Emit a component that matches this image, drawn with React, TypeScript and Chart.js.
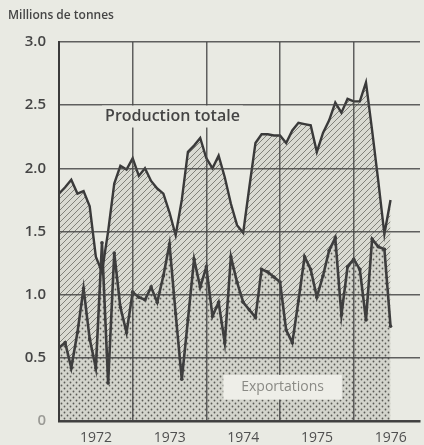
import React, { useEffect, useRef } from "react";
import { Chart, registerables } from "chart.js";

Chart.register(...registerables);

// Monthly series, January 1972 → July 1976 (millions of tonnes)
const startYear = 1972;
const production = [
  1.8, 1.85, 1.91, 1.8, 1.82, 1.7, 1.3, 1.18, 1.5, 1.88, 2.02, 1.99,
  2.08, 1.94, 2.0, 1.9, 1.84, 1.8, 1.65, 1.47, 1.75, 2.13, 2.18, 2.24,
  2.08, 2.0, 2.1, 1.93, 1.72, 1.55, 1.49, 1.85, 2.2, 2.27, 2.27, 2.26,
  2.26, 2.2, 2.3, 2.36, 2.35, 2.34, 2.13, 2.28, 2.38, 2.52, 2.44, 2.55,
  2.53, 2.53, 2.68, 2.3, 1.9, 1.48, 1.75,
];
const exportations = [
  0.58, 0.62, 0.42, 0.7, 1.05, 0.65, 0.42, 1.41, 0.3, 1.33, 0.9, 0.7,
  1.02, 0.98, 0.96, 1.06, 0.94, 1.15, 1.4, 0.85, 0.33, 0.8, 1.28, 1.06,
  1.22, 0.83, 0.94, 0.62, 1.3, 1.1, 0.94, 0.88, 0.82, 1.2, 1.18, 1.14,
  1.1, 0.72, 0.62, 0.95, 1.3, 1.2, 0.98, 1.15, 1.35, 1.45, 0.84, 1.22,
  1.28, 1.2, 0.8, 1.44, 1.38, 1.36, 0.75,
];
const yearTicks = [1972, 1973, 1974, 1975, 1976];
const yearLabels = ["1972", "1973", "1974", "1975", "1976"];
const valueTicks = [0, 0.5, 1, 1.5, 2, 2.5, 3];
const valueLabels = ["0", "0.5", "1.0", "1.5", "2.0", "2.5", "3.0"];
const unitLabel = "Millions de tonnes";
const productionLabel = "Production totale";
const exportLabel = "Exportations";

const PAGE_BG = "#e9eae3";
const INK = "#454545";
const FONT = "'Open Sans', 'DejaVu Sans', sans-serif";

function makeHatch(): CanvasPattern | string {
  const c = document.createElement("canvas");
  c.width = 6;
  c.height = 6;
  const g = c.getContext("2d");
  if (!g) return "#ccc";
  g.fillStyle = "#d9dad2";
  g.fillRect(0, 0, 6, 6);
  g.strokeStyle = "#80817a";
  g.lineWidth = 1;
  g.beginPath();
  g.moveTo(-1, 7);
  g.lineTo(7, -1);
  g.moveTo(-4, 4);
  g.lineTo(4, -4);
  g.moveTo(2, 10);
  g.lineTo(10, 2);
  g.stroke();
  return g.createPattern(c, "repeat") || "#ccc";
}

function makeDots(): CanvasPattern | string {
  const c = document.createElement("canvas");
  c.width = 6;
  c.height = 6;
  const g = c.getContext("2d");
  if (!g) return "#bbb";
  g.fillStyle = "#d3d4cc";
  g.fillRect(0, 0, 6, 6);
  g.fillStyle = "#5a5a55";
  g.beginPath();
  g.arc(1.5, 1.5, 0.9, 0, Math.PI * 2);
  g.arc(4.5, 4.5, 0.9, 0, Math.PI * 2);
  g.fill();
  return g.createPattern(c, "repeat") || "#bbb";
}

const labelsPlugin = {
  id: "labelsPlugin",
  afterDraw(chart: any) {
    const ctx = chart.ctx as CanvasRenderingContext2D;
    const xs = chart.scales.x;
    const ys = chart.scales.y;
    ctx.save();
    // unit title
    ctx.font = `600 12px ${FONT}`;
    ctx.fillStyle = INK;
    ctx.textAlign = "left";
    ctx.textBaseline = "middle";
    ctx.fillText(unitLabel, 8, 16);

    // Production totale label
    ctx.font = `600 16px ${FONT}`;
    const px = xs.getPixelForValue(1973.54);
    const py = ys.getPixelForValue(2.41);
    const pw = ctx.measureText(productionLabel).width;
    ctx.fillStyle = PAGE_BG;
    ctx.fillRect(px - pw / 2 - 3, py - 11, pw + 6, 22);
    ctx.fillStyle = INK;
    ctx.textAlign = "center";
    ctx.fillText(productionLabel, px, py);

    // Exportations box
    const bx0 = xs.getPixelForValue(1974.23);
    const bx1 = xs.getPixelForValue(1975.84);
    const by0 = ys.getPixelForValue(0.365);
    const by1 = ys.getPixelForValue(0.17);
    ctx.fillStyle = "#eeeee8";
    ctx.fillRect(bx0, by0, bx1 - bx0, by1 - by0);
    ctx.font = `14px ${FONT}`;
    ctx.fillStyle = "#8a8a85";
    ctx.fillText(exportLabel, (bx0 + bx1) / 2, (by0 + by1) / 2);
    ctx.restore();
  },
};

export default function App() {
  const ref = useRef<HTMLCanvasElement | null>(null);

  useEffect(() => {
    if (!ref.current) return;
    const toPoints = (arr: number[]) =>
      arr.map((v, i) => ({ x: startYear + i / 12, y: v }));
    const chart = new Chart(ref.current, {
      type: "line",
      data: {
        datasets: [
          {
            label: productionLabel,
            data: toPoints(production),
            borderColor: "#3a3a3a",
            borderWidth: 2.4,
            pointRadius: 0,
            tension: 0,
            fill: "+1",
            backgroundColor: makeHatch() as any,
          },
          {
            label: exportLabel,
            data: toPoints(exportations),
            borderColor: "#3e3e3e",
            borderWidth: 2.6,
            pointRadius: 1.8,
            pointBackgroundColor: "#3e3e3e",
            pointBorderWidth: 0,
            tension: 0,
            fill: "origin",
            backgroundColor: makeDots() as any,
          },
        ],
      },
      options: {
        animation: false,
        responsive: false,
        devicePixelRatio: 1,
        layout: { padding: { top: 42, right: 0, bottom: 0, left: 0 } },
        plugins: {
          legend: { display: false },
          tooltip: { enabled: false },
          title: { display: false },
          filler: { drawTime: "beforeDatasetsDraw" },
        },
        scales: {
          x: {
            type: "linear",
            min: 1972,
            max: 1976.9,
            afterBuildTicks: (s: any) => {
              s.ticks = yearTicks.map((v) => ({ value: v }));
            },
            afterFit: (s: any) => {
              s.height = 24;
            },
            grid: {
              color: "rgba(70,70,70,0.85)",
              lineWidth: 1.5,
              drawTicks: false,
              z: 1,
            },
            border: { color: "#3a3a3a", width: 2.5, z: 1 },
            ticks: {
              padding: 9,
              labelOffset: 37,
              maxRotation: 0,
              autoSkip: false,
              color: "#505050",
              font: { family: FONT, size: 14 },
              callback: (v: any) => {
                const i = yearTicks.indexOf(Number(v));
                return i >= 0 ? yearLabels[i] : "";
              },
            },
          },
          y: {
            type: "linear",
            min: 0,
            max: 3,
            afterBuildTicks: (s: any) => {
              s.ticks = valueTicks.map((v) => ({ value: v }));
            },
            afterFit: (s: any) => {
              s.width = 59;
            },
            grid: {
              color: "rgba(70,70,70,0.85)",
              lineWidth: 1.5,
              drawTicks: false,
              z: 1,
            },
            border: { color: "#3a3a3a", width: 2, z: 1 },
            ticks: {
              padding: 13,
              color: (c: any) => (c.tick && c.tick.value === 0 ? "#9a9a95" : INK),
              font: { family: FONT, size: 15, weight: 600 },
              callback: (v: any) => {
                const i = valueTicks.indexOf(Number(v));
                return i >= 0 ? valueLabels[i] : "";
              },
            },
          },
        },
      },
      plugins: [labelsPlugin],
    });
    return () => chart.destroy();
  }, []);

  return (
    <div
      style={{
        position: "fixed",
        left: 0,
        top: 0,
        width: 424,
        height: 445,
        background: PAGE_BG,
      }}
    >
      <canvas ref={ref} width={424} height={445} />
    </div>
  );
}
